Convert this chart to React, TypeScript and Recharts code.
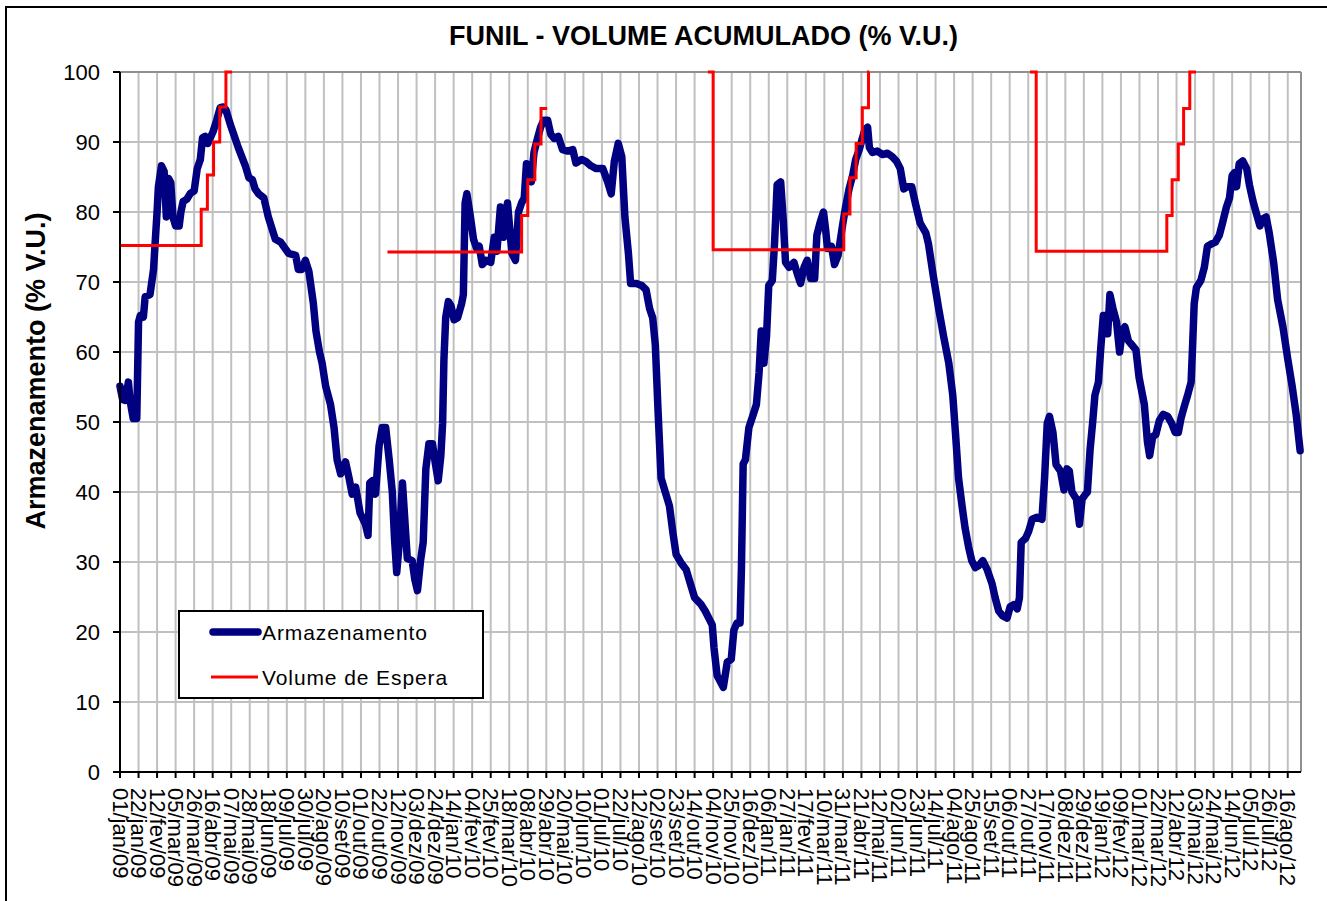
import React from 'react';
import { LineChart, Line, XAxis, YAxis, CartesianGrid, Legend, ReferenceLine } from 'recharts';

const FONT = '"Liberation Sans", Arial, Helvetica, sans-serif';

const TITLE = 'FUNIL - VOLUME ACUMULADO (% V.U.)';
const Y_LABEL = 'Armazenamento (% V.U.)';
const SERIES_STORAGE = 'Armazenamento';
const SERIES_WAIT = 'Volume de Espera';

// x = days since 01/jan/09
const X_MAX = 1338;
const TICK_STEP_DAYS = 21;
const TICK_LABELS = [
  '01/jan/09', '22/jan/09', '12/fev/09', '05/mar/09', '26/mar/09', '16/abr/09', '07/mai/09', '28/mai/09',
  '18/jun/09', '09/jul/09', '30/jul/09', '20/ago/09', '10/set/09', '01/out/09', '22/out/09', '12/nov/09',
  '03/dez/09', '24/dez/09', '14/jan/10', '04/fev/10', '25/fev/10', '18/mar/10', '08/abr/10', '29/abr/10',
  '20/mai/10', '10/jun/10', '01/jul/10', '22/jul/10', '12/ago/10', '02/set/10', '23/set/10', '14/out/10',
  '04/nov/10', '25/nov/10', '16/dez/10', '06/jan/11', '27/jan/11', '17/fev/11', '10/mar/11', '31/mar/11',
  '21/abr/11', '12/mai/11', '02/jun/11', '23/jun/11', '14/jul/11', '04/ago/11', '25/ago/11', '15/set/11',
  '06/out/11', '27/out/11', '17/nov/11', '08/dez/11', '29/dez/11', '19/jan/12', '09/fev/12', '01/mar/12',
  '22/mar/12', '12/abr/12', '03/mai/12', '24/mai/12', '14/jun/12', '05/jul/12', '26/jul/12', '16/ago/12',
];
const Y_TICKS = [0, 10, 20, 30, 40, 50, 60, 70, 80, 90, 100];

// Armazenamento (% V.U.) — [day, value]
const ARMAZ_2009: [number, number][] = [
  [0, 55.1], [3, 53.2], [6, 53.1], [9.5, 55.7], [11.5, 53], [15, 50.5], [19, 50.5], [21, 64.3], [23, 65.2],
  [26.5, 65], [28.5, 67.9], [34, 68.2], [38, 71.8], [40.5, 77], [42, 80], [43.5, 83.6], [47, 86.6], [50, 85.8],
  [52.5, 79.3], [55, 84.8], [57.5, 84.2], [60, 79.3], [63, 78], [67, 78], [69, 80], [71.5, 81.5], [75.5, 81.8],
  [80, 82.7], [84, 83], [87.5, 86.2], [91, 87.5], [93.5, 90.6], [96.5, 90.8], [99.5, 89.8], [103, 90.8],
  [105.5, 91.5], [109.5, 93.1], [113.5, 94.9], [117, 95], [120, 94.6], [125, 92.5], [134, 89.2], [142, 86.6],
  [146, 84.9], [150, 84.6], [153, 83.3], [157, 82.6], [163, 82], [168, 79.3], [176, 76.1], [182, 75.7],
  [187, 74.8], [191, 74.1], [199, 73.8], [202, 71.8], [206, 71.8], [210, 73.1], [214, 71.5], [219, 67],
  [222, 63], [226, 60], [229, 58.4], [233, 55.1], [238.5, 52.5], [242.5, 49.2], [246, 44.6], [250, 42.6],
  [255.5, 44.3], [259.5, 42], [263, 39.7], [267, 40.7], [272, 37], [278, 35.4], [281, 33.8], [283, 41.3],
  [286, 41.6], [289.5, 39.7], [293.5, 46.6], [297, 49.2], [301, 49.2], [305, 44.6], [308.5, 40], [311, 33.4],
  [313.5, 28.5], [316, 32.1], [320, 41.3], [323, 35.4], [325.5, 30.5], [331, 30.2], [334, 27.5], [337, 25.9],
  [340.5, 30.2], [343.5, 32.8], [346.5, 43.3], [350, 46.9], [354, 46.9], [357.5, 43.9], [360.5, 41.6],
  [363.5, 45.2],
];
const ARMAZ_2010: [number, number][] = [
  [365.5, 49.8], [367, 59], [369, 64.9], [372, 67.2], [375, 66.6], [378.5, 64.6], [382.5, 64.9], [387, 66.9],
  [389, 68.2], [391, 81.3], [393, 82.6], [397, 79.3], [400.5, 76.1], [404, 74.8], [407, 75.1], [410.5, 72.5],
  [414.5, 73.1], [420, 72.8], [424, 76.4], [427, 74.4], [431, 80.7], [434.5, 76.4], [439, 81.3], [444, 74.1],
  [448, 73.1], [451.5, 80], [455, 81.3], [458, 82], [460.5, 86.9], [463, 85.2], [466, 84.3], [469, 88.5],
  [473, 90.5], [476.5, 92.1], [480, 93.1], [484.5, 93.1], [488, 91.1], [492, 90.5], [496.5, 90.8],
  [501.5, 88.9], [507, 88.7], [513, 88.9], [516.5, 87], [523, 87.5], [528, 87.2], [533.5, 86.6],
  [539.5, 86.2], [547, 86.2], [552.5, 84.3], [556.5, 82.6], [560, 87.2], [564.5, 89.8], [568.5, 87.9],
  [572, 79.3], [576, 74.1], [578.5, 69.8], [585, 69.8], [591, 69.5], [596, 68.9], [600, 66.2], [603.5, 64.9],
  [606.5, 61], [609.5, 51.8], [613, 42], [617, 40.3], [622.5, 38], [626.5, 34.1], [630, 31.1], [636, 29.8],
  [641.5, 28.9], [645.5, 27.2], [651, 24.9], [658.5, 23.9], [663, 23], [671, 21], [673, 17.7], [676.5, 13.8],
  [683.5, 12.1], [688, 15.7], [692.5, 16.1], [695.5, 20.3], [699, 21.3], [702.5, 21.3], [704, 28.9],
  [706, 44], [708.5, 44.6], [712.5, 49.2], [717.5, 51.1], [721, 52.5], [724, 57], [726.5, 63], [729.5, 58.4],
];
const ARMAZ_2011: [number, number][] = [
  [732.5, 62.3], [735, 69.5], [739, 70.2], [741.5, 75.4], [744.5, 83.9], [748.5, 84.3], [751.5, 78.7],
  [754, 72.8], [758, 72.1], [763.5, 72.8], [767.5, 71.1], [771, 69.8], [775, 72.1], [778.5, 73.1],
  [782.5, 70.5], [787, 70.5], [789.5, 76.7], [793, 78.4], [797, 80], [799.5, 77.4], [801.5, 74.8], [806, 75.1],
  [809.5, 72.5], [813.5, 73.8], [818.5, 78], [822, 80.7], [826, 83.3], [830, 85.2], [833.5, 87.5],
  [837.5, 88.9], [841, 90.5], [844, 91.8], [847, 92.1], [849, 89.2], [852.5, 88.5], [858, 88.7], [864, 88.2],
  [869.5, 88.4], [875, 87.9], [880, 87.2], [884, 86.2], [888, 83.3], [891.5, 83.6], [897, 83.6], [901, 81.3],
  [906.5, 78.4], [913, 77], [916, 75.4], [921.5, 70.8], [927.5, 66.2], [933, 62.3], [939, 58.4],
  [943.5, 53.8], [946.5, 48.5], [950, 42], [954, 38], [957.5, 34.8], [961.5, 32.1], [965, 30.2], [969, 29.2],
  [973, 29.5], [977.5, 30.2], [982.5, 28.9], [988, 26.9], [991.5, 24.9], [995.5, 23], [1000, 22.3],
  [1005, 22], [1008.5, 23.6], [1012.5, 23.9], [1016.5, 23.3], [1019, 24.9], [1021, 32.8], [1026, 33.4],
  [1029.5, 34.4], [1033.5, 36.1], [1039, 36.4], [1044.5, 36.1], [1047.5, 42], [1050.5, 49.8], [1053, 50.8],
  [1057, 48.5], [1060.5, 43.9], [1065.5, 43], [1069.5, 40.3], [1073, 43.3], [1075.5, 43], [1078.5, 40],
  [1083.5, 39], [1087, 35.4], [1090, 39], [1094, 39.7],
];
const ARMAZ_2012: [number, number][] = [
  [1096, 40], [1099, 46], [1102, 50], [1104.5, 53.8], [1108.5, 55.7], [1111, 60.3], [1114, 65.2],
  [1117, 65.2], [1119, 62.6], [1121.5, 68.2], [1125, 66.2], [1129, 64.3], [1132.5, 60], [1135.5, 63],
  [1138.5, 63.6], [1142.5, 61.6], [1146.5, 61], [1151, 60.3], [1154.5, 56.4], [1160.5, 52.5], [1164, 47.2],
  [1166.5, 45.2], [1170, 47.9], [1173.5, 48.2], [1177.5, 50.2], [1182, 51.1], [1187, 50.8], [1191.5, 49.8],
  [1195.5, 48.5], [1199, 48.5], [1202, 50.5], [1205.5, 52.1], [1209.5, 53.8], [1213.5, 55.7], [1215, 60.3],
  [1217, 66.9], [1219.5, 69.2], [1224.5, 70.2], [1228.5, 72.1], [1232, 75.1], [1236, 75.4], [1241, 75.7],
  [1245.5, 76.7], [1249, 78.4], [1253.5, 80.7], [1257, 82], [1260, 85.2], [1262.5, 85.6], [1265, 83.6],
  [1268, 86.9], [1272, 87.3], [1276.5, 86.2], [1279.5, 83.9], [1283.5, 81.6], [1287, 80], [1291.5, 78],
  [1294.5, 79], [1298.5, 79.3], [1302, 77], [1307, 72.8], [1311.5, 67.5], [1317.5, 63.6], [1323, 59],
  [1328, 55.1], [1332.5, 51.1], [1337, 45.9],
];

// Volume de Espera (% V.U.) — step changes [day, value]
const ESPERA_2009: [number, number][] = [[0, 75.2], [92, 80.4], [99, 85.3], [106, 90], [113, 95], [120, 100], [127, 100]];
const ESPERA_2010: [number, number][] = [[303, 74.3], [455, 79.5], [462, 84.6], [470, 89.7], [477, 94.8], [484, 94.8]];
const ESPERA_2011: [number, number][] = [[666, 100], [672, 74.6], [820, 79.7], [827, 84.9], [834, 89.8], [841, 94.9], [848, 100], [849, 100]];
const ESPERA_2012: [number, number][] = [[1031, 100], [1038, 74.4], [1186, 79.5], [1192, 84.6], [1199, 89.7], [1205, 94.8], [1212, 100], [1219, 100]];

const toRows = (pts: [number, number][]) => pts.map(([d, v]) => ({ d, v }));
const storageData = toRows([...ARMAZ_2009, ...ARMAZ_2010, ...ARMAZ_2011, ...ARMAZ_2012]);
const waitSegments = [ESPERA_2009, ESPERA_2010, ESPERA_2011, ESPERA_2012].map(toRows);
const tickDays = TICK_LABELS.map((_, i) => i * TICK_STEP_DAYS);

const NAVY = '#000080';
const RED = '#ff0000';
const GRID = '#c0c0c0';

const XTick = (props: any) => {
  const { x, y, payload } = props;
  const label = TICK_LABELS[Math.round(payload.value / TICK_STEP_DAYS)];
  return (
    <text
      x={x}
      y={y}
      transform={`rotate(90, ${x}, ${y})`}
      textAnchor="start"
      dominantBaseline="central"
      fontSize={22}
      fill="#000"
      fontFamily={FONT}
    >
      {label}
    </text>
  );
};

const LegendBox = () => (
  <div style={{ width: 306, height: 89, boxSizing: 'border-box', border: '2px solid #000', background: '#fff', position: 'relative' }}>
    <svg width={306} height={89} style={{ position: 'absolute', left: -2, top: -2 }}>
      <line x1={35} x2={80} y1={22} y2={22} stroke={NAVY} strokeWidth={7.5} strokeLinecap="round" />
      <text x={84} y={22} dominantBaseline="central" fontSize={21} letterSpacing={0.9} fill="#000" fontFamily={FONT}>{SERIES_STORAGE}</text>
      <line x1={33} x2={80} y1={67} y2={67} stroke={RED} strokeWidth={3} />
      <text x={84} y={67} dominantBaseline="central" fontSize={21} letterSpacing={0.9} fill="#000" fontFamily={FONT}>{SERIES_WAIT}</text>
    </svg>
  </div>
);

export default function App() {
  return (
    <div style={{ position: 'absolute', left: 0, top: 0, width: 1327, height: 901, overflow: 'hidden', background: '#fff', fontFamily: FONT }}>
      <div style={{ position: 'absolute', left: 0, top: 0 }}>
        <LineChart width={1327} height={901} margin={{ top: 72, right: 26, bottom: 0, left: 0 }}>
          <CartesianGrid stroke={GRID} strokeWidth={2} />
          <XAxis
            type="number"
            dataKey="d"
            domain={[0, X_MAX]}
            ticks={tickDays}
            interval={0}
            height={129}
            tick={<XTick />}
            tickSize={6}
            tickMargin={10}
            axisLine={{ stroke: '#000', strokeWidth: 2 }}
            tickLine={{ stroke: '#000', strokeWidth: 2 }}
            allowDecimals
          />
          <YAxis
            type="number"
            domain={[0, 100]}
            ticks={Y_TICKS}
            interval={0}
            width={120}
            tickSize={7}
            tickMargin={13}
            tick={{ fontSize: 22, fill: '#000', fontFamily: FONT }}
            axisLine={{ stroke: '#000', strokeWidth: 2 }}
            tickLine={{ stroke: '#000', strokeWidth: 2 }}
          />
          <ReferenceLine x={X_MAX} stroke="#909090" strokeWidth={2} />
          <ReferenceLine y={100} stroke="#909090" strokeWidth={2} />
          <Line
            data={storageData}
            dataKey="v"
            name={SERIES_STORAGE}
            type="linear"
            stroke={NAVY}
            strokeWidth={7.5}
            strokeLinejoin="round"
            strokeLinecap="round"
            dot={false}
            activeDot={false}
            isAnimationActive={false}
          />
          {waitSegments.map((seg, i) => (
            <Line
              key={i}
              data={seg}
              dataKey="v"
              name={SERIES_WAIT}
              type="stepAfter"
              stroke={RED}
              strokeWidth={3}
              dot={false}
              activeDot={false}
              legendType={i === 0 ? 'line' : 'none'}
              isAnimationActive={false}
            />
          ))}
          <Legend
            layout="horizontal"
            verticalAlign="middle"
            align="center"
            content={<LegendBox />}
            wrapperStyle={{ position: 'absolute', left: 178, top: 610, width: 306, height: 89 }}
          />
        </LineChart>
      </div>
      <div style={{ position: 'absolute', left: 5, top: 6, width: 1400, height: 1000, border: '2px solid #000', pointerEvents: 'none' }} />
      <svg width={1327} height={901} style={{ position: 'absolute', left: 0, top: 0, pointerEvents: 'none' }}>
        <text x={703.5} y={45} textAnchor="middle" fontSize={27} fontWeight="bold" fill="#000" fontFamily={FONT}>{TITLE}</text>
        <text x={45} y={371} textAnchor="middle" fontSize={27} fontWeight="bold" fill="#000" fontFamily={FONT} transform="rotate(-90, 45, 371)">{Y_LABEL}</text>
      </svg>
    </div>
  );
}
